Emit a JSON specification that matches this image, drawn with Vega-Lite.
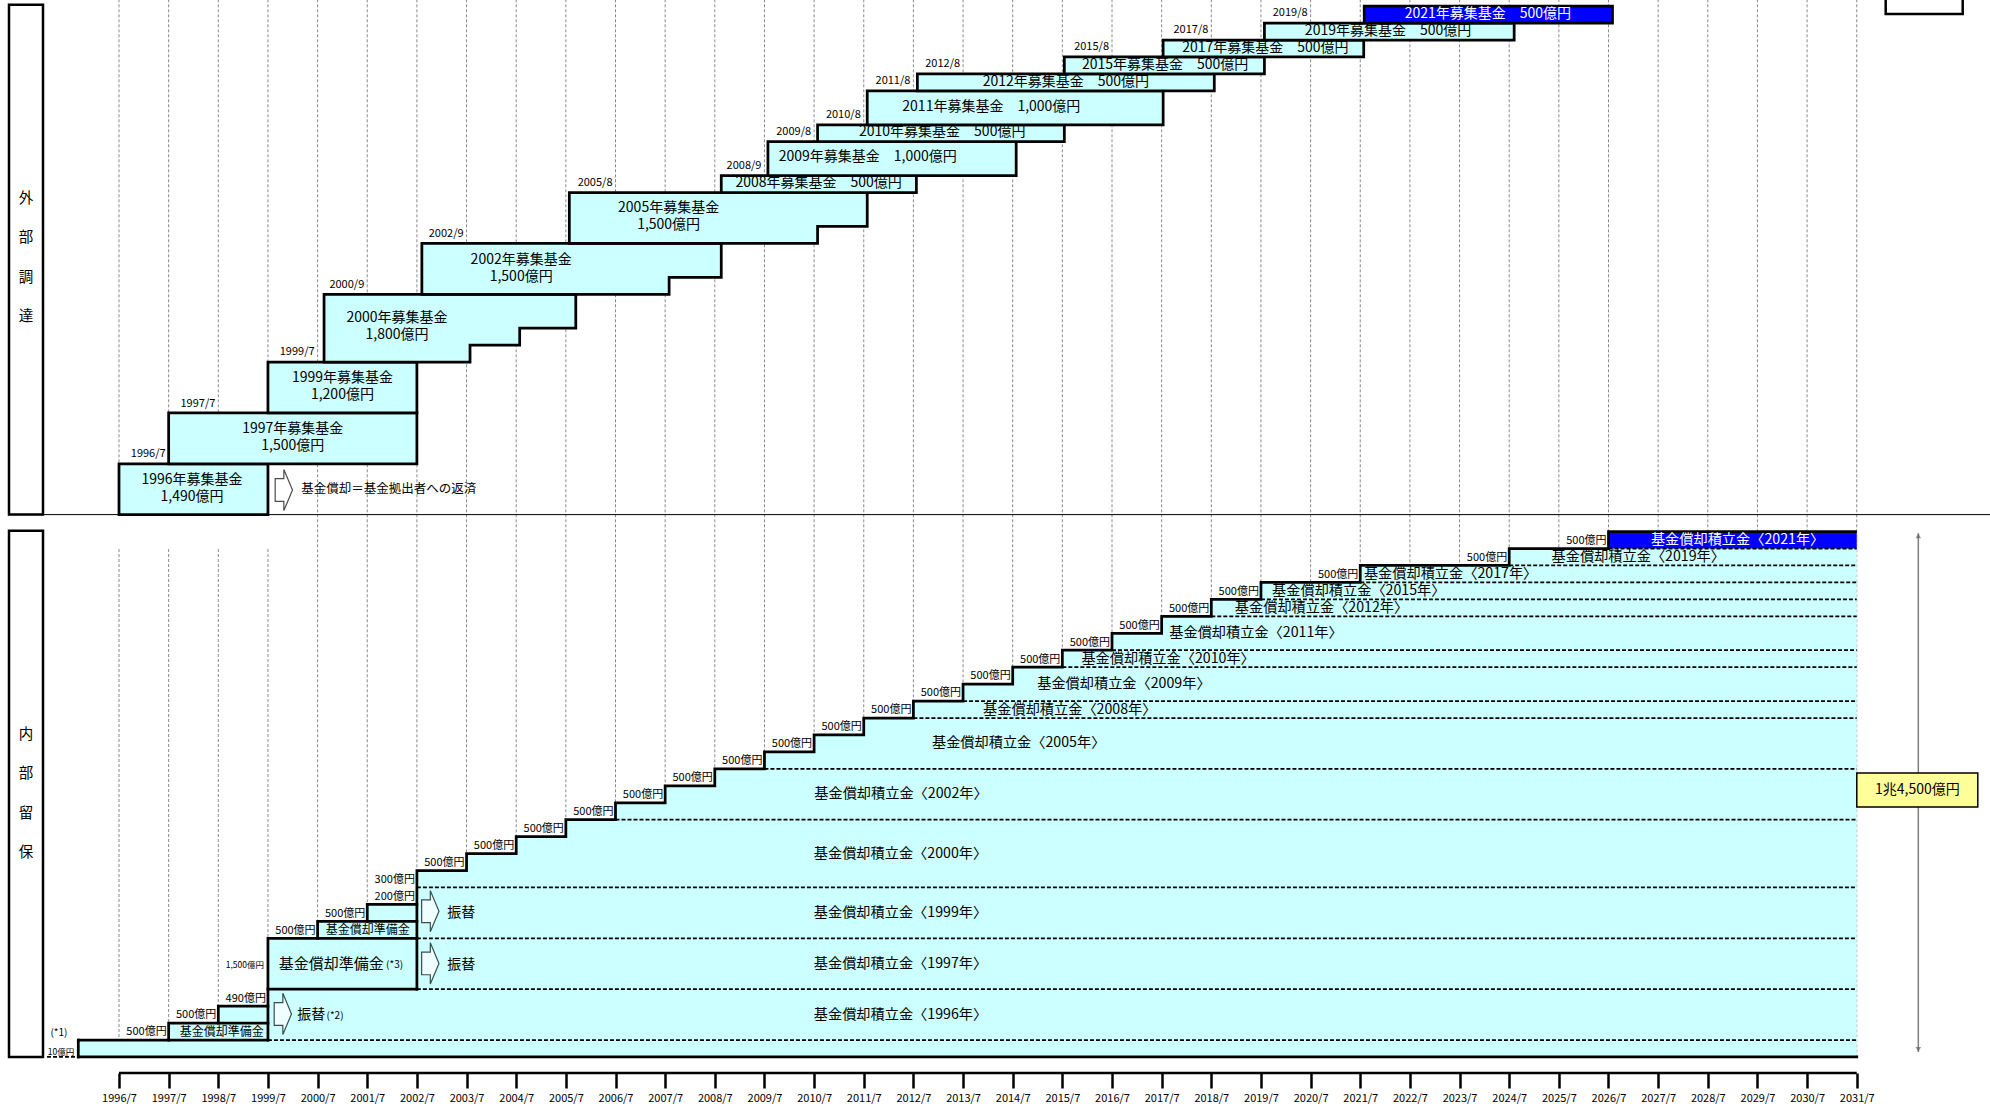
{
"$schema": "https://vega.github.io/schema/vega-lite/v6.json",
"width": 1990, "height": 1073,
"autosize": {"type": "none"},
"padding": {"left": 0, "top": 0, "right": 0, "bottom": 36},
"background": "white",
"config": {"view": {"stroke": null}, "font": "Noto Sans CJK JP", "text": {"font": "Noto Sans CJK JP"}},
"datasets": {
"grid": [
{"t":1996.5,"lv":62.4,"lv2":32},{"t":1996.5,"lv":29.97,"lv2":0},
{"t":1997.5,"lv":62.4,"lv2":32},{"t":1997.5,"lv":29.97,"lv2":0},
{"t":1998.5,"lv":62.4,"lv2":32},{"t":1998.5,"lv":29.97,"lv2":0},
{"t":1999.5,"lv":62.4,"lv2":32},{"t":1999.5,"lv":29.97,"lv2":0},
{"t":2000.5,"lv":62.4,"lv2":0},{"t":2001.5,"lv":62.4,"lv2":0},{"t":2002.5,"lv":62.4,"lv2":0},{"t":2003.5,"lv":62.4,"lv2":0},
{"t":2004.5,"lv":62.4,"lv2":0},{"t":2005.5,"lv":62.4,"lv2":0},{"t":2006.5,"lv":62.4,"lv2":0},{"t":2007.5,"lv":62.4,"lv2":0},
{"t":2008.5,"lv":62.4,"lv2":0},{"t":2009.5,"lv":62.4,"lv2":0},{"t":2010.5,"lv":62.4,"lv2":0},{"t":2011.5,"lv":62.4,"lv2":0},
{"t":2012.5,"lv":62.4,"lv2":0},{"t":2013.5,"lv":62.4,"lv2":0},{"t":2014.5,"lv":62.4,"lv2":0},{"t":2015.5,"lv":62.4,"lv2":0},
{"t":2016.5,"lv":62.4,"lv2":0},{"t":2017.5,"lv":62.4,"lv2":0},{"t":2018.5,"lv":62.4,"lv2":0},{"t":2019.5,"lv":62.4,"lv2":0},
{"t":2020.5,"lv":62.4,"lv2":0},{"t":2021.5,"lv":62.4,"lv2":0},{"t":2022.5,"lv":62.4,"lv2":0},{"t":2023.5,"lv":62.4,"lv2":0},
{"t":2024.5,"lv":62.4,"lv2":0},{"t":2025.5,"lv":62.4,"lv2":0},{"t":2026.5,"lv":62.4,"lv2":0},{"t":2027.5,"lv":62.4,"lv2":0},
{"t":2028.5,"lv":62.4,"lv2":0},{"t":2029.5,"lv":62.4,"lv2":0},{"t":2030.5,"lv":62.4,"lv2":0},{"t":2031.5,"lv":62.4,"lv2":0}
],
"thin": [{"t":1994.264,"t2":2034.2,"lv":32}],
"axisLine": [{"t":1996.5,"t2":2031.5,"lv":-0.944}],
"stair": [
{"t":1995.68,"lv":1},{"t":1997.5,"lv":2},{"t":1998.5,"lv":3},{"t":1999.5,"lv":7},{"t":2000.5,"lv":8},{"t":2001.5,"lv":9},
{"t":2002.5,"lv":11},{"t":2003.5,"lv":12},{"t":2004.5,"lv":13},{"t":2005.5,"lv":14},{"t":2006.5,"lv":15},{"t":2007.5,"lv":16},
{"t":2008.5,"lv":17},{"t":2009.5,"lv":18},{"t":2010.5,"lv":19},{"t":2011.5,"lv":20},{"t":2012.5,"lv":21},{"t":2013.5,"lv":22},
{"t":2014.5,"lv":23},{"t":2015.5,"lv":24},{"t":2016.5,"lv":25},{"t":2017.5,"lv":26},{"t":2018.5,"lv":27},{"t":2019.5,"lv":28},
{"t":2021.5,"lv":29},{"t":2024.5,"lv":30},{"t":2026.5,"lv":31},{"t":2031.5,"lv":31}
],
"blueband": [{"t":2026.5,"t2":2031.5,"lv":30,"lv2":31}],
"seps": [
{"t":1995.05,"t2":1995.68,"lv":0},
{"t":1999.5,"t2":2031.5,"lv":1},{"t":2002.5,"t2":2031.5,"lv":4},{"t":2002.5,"t2":2031.5,"lv":7},{"t":2002.5,"t2":2031.5,"lv":10},
{"t":2006.5,"t2":2031.5,"lv":14},{"t":2009.5,"t2":2031.5,"lv":17},{"t":2012.5,"t2":2031.5,"lv":20},{"t":2013.5,"t2":2031.5,"lv":21},
{"t":2015.5,"t2":2031.5,"lv":23},{"t":2016.5,"t2":2031.5,"lv":24},{"t":2018.5,"t2":2031.5,"lv":26},{"t":2019.5,"t2":2031.5,"lv":27},
{"t":2021.5,"t2":2031.5,"lv":28},{"t":2024.5,"t2":2031.5,"lv":29},{"t":2026.5,"t2":2031.5,"lv":30}
],
"segs": [
{"t":1995.68,"t2":1995.68,"lv":0,"lv2":1},
{"t":1995.68,"t2":2031.5,"lv":0,"lv2":0},
{"t":1997.5,"t2":1999.5,"lv":1,"lv2":1},
{"t":1998.5,"t2":1999.5,"lv":2,"lv2":2},
{"t":1999.5,"t2":1999.5,"lv":1,"lv2":3},
{"t":1999.5,"t2":2002.5,"lv":4,"lv2":4},
{"t":2000.5,"t2":2002.5,"lv":7,"lv2":7},
{"t":2001.5,"t2":2002.5,"lv":8,"lv2":8},
{"t":2002.5,"t2":2002.5,"lv":4,"lv2":9}
],
"funds": [
{"fund":"1996","kind":"past","lv":32,"t":1999.5,"t2":1996.5},{"fund":"1996","kind":"past","lv":35,"t":1999.5,"t2":1996.5},
{"fund":"1997","kind":"past","lv":35,"t":2002.5,"t2":1997.5},{"fund":"1997","kind":"past","lv":38,"t":2002.5,"t2":1997.5},
{"fund":"1999","kind":"past","lv":38,"t":2002.5,"t2":1999.5},{"fund":"1999","kind":"past","lv":41,"t":2002.5,"t2":1999.5},
{"fund":"2000","kind":"past","lv":41,"t":2002.6,"t2":2000.63},{"fund":"2000","kind":"past","lv":42,"t":2003.57,"t2":2000.63},
{"fund":"2000","kind":"past","lv":43,"t":2004.57,"t2":2000.63},{"fund":"2000","kind":"past","lv":44,"t":2005.7,"t2":2000.63},
{"fund":"2000","kind":"past","lv":45,"t":2005.7,"t2":2000.63},
{"fund":"2002","kind":"past","lv":45,"t":2006.57,"t2":2002.6},{"fund":"2002","kind":"past","lv":46,"t":2007.58,"t2":2002.6},
{"fund":"2002","kind":"past","lv":47,"t":2008.63,"t2":2002.6},{"fund":"2002","kind":"past","lv":48,"t":2008.63,"t2":2002.6},
{"fund":"2005","kind":"past","lv":48,"t":2009.57,"t2":2005.57},{"fund":"2005","kind":"past","lv":49,"t":2010.57,"t2":2005.57},
{"fund":"2005","kind":"past","lv":50,"t":2011.57,"t2":2005.57},{"fund":"2005","kind":"past","lv":51,"t":2011.57,"t2":2005.57},
{"fund":"2008","kind":"past","lv":51,"t":2012.56,"t2":2008.63},{"fund":"2008","kind":"past","lv":52,"t":2012.56,"t2":2008.63},
{"fund":"2009","kind":"past","lv":52,"t":2013.56,"t2":2009.57},{"fund":"2009","kind":"past","lv":53,"t":2014.57,"t2":2009.57},
{"fund":"2009","kind":"past","lv":54,"t":2014.57,"t2":2009.57},
{"fund":"2010","kind":"past","lv":54,"t":2015.54,"t2":2010.57},{"fund":"2010","kind":"past","lv":55,"t":2015.54,"t2":2010.57},
{"fund":"2011","kind":"past","lv":55,"t":2016.55,"t2":2011.57},{"fund":"2011","kind":"past","lv":56,"t":2017.53,"t2":2011.57},
{"fund":"2011","kind":"past","lv":57,"t":2017.53,"t2":2011.57},
{"fund":"2012","kind":"past","lv":57,"t":2018.56,"t2":2012.58},{"fund":"2012","kind":"past","lv":58,"t":2018.56,"t2":2012.58},
{"fund":"2015","kind":"past","lv":58,"t":2019.57,"t2":2015.54},{"fund":"2015","kind":"past","lv":59,"t":2019.57,"t2":2015.54},
{"fund":"2017","kind":"past","lv":59,"t":2021.57,"t2":2017.53},{"fund":"2017","kind":"past","lv":60,"t":2021.57,"t2":2017.53},
{"fund":"2019","kind":"past","lv":60,"t":2024.6,"t2":2019.57},{"fund":"2019","kind":"past","lv":61,"t":2024.6,"t2":2019.57},
{"fund":"2021","kind":"latest","lv":61,"t":2026.58,"t2":2021.58},{"fund":"2021","kind":"latest","lv":62,"t":2026.58,"t2":2021.58}
],
"fundLabels": [
{"t":1997.97,"lv":34.04,"text":"1996年募集基金\n1,490億円","kind":"past"},
{"t":2000.0,"lv":37.04,"text":"1997年募集基金\n1,500億円","kind":"past"},
{"t":2001.0,"lv":40.04,"text":"1999年募集基金\n1,200億円","kind":"past"},
{"t":2002.1,"lv":43.58,"text":"2000年募集基金\n1,800億円","kind":"past"},
{"t":2004.6,"lv":47.03,"text":"2002年募集基金\n1,500億円","kind":"past"},
{"t":2007.57,"lv":50.06,"text":"2005年募集基金\n1,500億円","kind":"past"},
{"t":2010.59,"lv":51.55,"text":"2008年募集基金　500億円","kind":"past"},
{"t":2011.58,"lv":53.1,"text":"2009年募集基金　1,000億円","kind":"past"},
{"t":2013.08,"lv":54.55,"text":"2010年募集基金　500億円","kind":"past"},
{"t":2014.07,"lv":56.07,"text":"2011年募集基金　1,000億円","kind":"past"},
{"t":2015.57,"lv":57.55,"text":"2012年募集基金　500億円","kind":"past"},
{"t":2017.57,"lv":58.55,"text":"2015年募集基金　500億円","kind":"past"},
{"t":2019.59,"lv":59.55,"text":"2017年募集基金　500億円","kind":"past"},
{"t":2022.06,"lv":60.55,"text":"2019年募集基金　500億円","kind":"past"},
{"t":2024.07,"lv":61.55,"text":"2021年募集基金　500億円","kind":"latest"}
],
"dateLabels": [
{"t":1997.5,"lv":35.58,"text":"1996/7"},{"t":1998.5,"lv":38.55,"text":"1997/7"},{"t":2000.5,"lv":41.57,"text":"1999/7"},
{"t":2001.5,"lv":45.57,"text":"2000/9"},{"t":2003.5,"lv":48.57,"text":"2002/9"},{"t":2006.5,"lv":51.57,"text":"2005/8"},
{"t":2009.5,"lv":52.57,"text":"2008/9"},{"t":2010.5,"lv":54.57,"text":"2009/8"},{"t":2011.5,"lv":55.57,"text":"2010/8"},
{"t":2012.5,"lv":57.57,"text":"2011/8"},{"t":2013.5,"lv":58.57,"text":"2012/8"},{"t":2016.5,"lv":59.57,"text":"2015/8"},
{"t":2018.5,"lv":60.57,"text":"2017/8"},{"t":2020.5,"lv":61.57,"text":"2019/8"}
],
"amounts": [
{"t":1997.5,"lv":1.45,"text":"500億円"},{"t":1998.5,"lv":2.45,"text":"500億円"},{"t":1999.5,"lv":3.45,"text":"490億円"},
{"t":2000.5,"lv":7.42,"text":"500億円"},{"t":2001.5,"lv":8.42,"text":"500億円"},{"t":2002.5,"lv":9.45,"text":"200億円"},
{"t":2002.5,"lv":10.45,"text":"300億円"},{"t":2003.5,"lv":11.45,"text":"500億円"},{"t":2004.5,"lv":12.45,"text":"500億円"},
{"t":2005.5,"lv":13.45,"text":"500億円"},{"t":2006.5,"lv":14.45,"text":"500億円"},{"t":2007.5,"lv":15.45,"text":"500億円"},
{"t":2008.5,"lv":16.45,"text":"500億円"},{"t":2009.5,"lv":17.45,"text":"500億円"},{"t":2010.5,"lv":18.45,"text":"500億円"},
{"t":2011.5,"lv":19.45,"text":"500億円"},{"t":2012.5,"lv":20.45,"text":"500億円"},{"t":2013.5,"lv":21.45,"text":"500億円"},
{"t":2014.5,"lv":22.45,"text":"500億円"},{"t":2015.5,"lv":23.45,"text":"500億円"},{"t":2016.5,"lv":24.45,"text":"500億円"},
{"t":2017.5,"lv":25.45,"text":"500億円"},{"t":2018.5,"lv":26.45,"text":"500億円"},{"t":2019.5,"lv":27.45,"text":"500億円"},
{"t":2021.5,"lv":28.45,"text":"500億円"},{"t":2024.5,"lv":29.45,"text":"500億円"},{"t":2026.5,"lv":30.45,"text":"500億円"}
],
"smallAmounts": [{"t":1999.5,"lv":5.4,"text":"1,500億円"},{"t":1995.68,"lv":0.3,"text":"10億円"}],
"bandLabels": [
{"t":2012.24,"lv":2.5,"text":"基金償却積立金〈1996年〉","kind":"past"},
{"t":2012.24,"lv":5.5,"text":"基金償却積立金〈1997年〉","kind":"past"},
{"t":2012.24,"lv":8.5,"text":"基金償却積立金〈1999年〉","kind":"past"},
{"t":2012.24,"lv":12,"text":"基金償却積立金〈2000年〉","kind":"past"},
{"t":2012.25,"lv":15.5,"text":"基金償却積立金〈2002年〉","kind":"past"},
{"t":2014.62,"lv":18.5,"text":"基金償却積立金〈2005年〉","kind":"past"},
{"t":2015.65,"lv":20.5,"text":"基金償却積立金〈2008年〉","kind":"past"},
{"t":2016.74,"lv":22,"text":"基金償却積立金〈2009年〉","kind":"past"},
{"t":2017.63,"lv":23.5,"text":"基金償却積立金〈2010年〉","kind":"past"},
{"t":2019.4,"lv":25,"text":"基金償却積立金〈2011年〉","kind":"past"},
{"t":2020.72,"lv":26.5,"text":"基金償却積立金〈2012年〉","kind":"past"},
{"t":2021.47,"lv":27.5,"text":"基金償却積立金〈2015年〉","kind":"past"},
{"t":2023.32,"lv":28.5,"text":"基金償却積立金〈2017年〉","kind":"past"},
{"t":2027.1,"lv":29.5,"text":"基金償却積立金〈2019年〉","kind":"past"},
{"t":2029.1,"lv":30.5,"text":"基金償却積立金〈2021年〉","kind":"latest"}
],
"misc14": [
{"t":2000.09,"lv":2.45,"text":"振替"},{"t":2003.11,"lv":5.45,"text":"振替"},{"t":2003.11,"lv":8.5,"text":"振替"}
],
"misc15": [
{"t":1999.72,"lv":5.5,"text":"基金償却準備金"}
],
"misc10": [
{"t":2000.68,"lv":2.4,"text":"(*2)"},{"t":2001.88,"lv":5.45,"text":"(*3)"},{"t":1995.12,"lv":1.42,"text":"(*1)"}
],
"misc12": [
{"t":1998.57,"lv":1.5,"text":"基金償却準備金"},{"t":2001.51,"lv":7.5,"text":"基金償却準備金"}
],
"note": [{"t":2000.17,"lv":33.5,"text":"基金償却＝基金拠出者への返済"}],
"panels": [
{"t":1994.2845,"t2":1994.9693,"lv":32,"lv2":62.08},
{"t":1994.2845,"t2":1994.9693,"lv":0,"lv2":31.05},
{"t":2032.083,"t2":2033.634,"lv":61.53,"lv2":63.5}
],
"panelText": [
{"t":1994.627,"lv":50.62,"text":"外\n部\n調\n達"},
{"t":1994.627,"lv":19.0,"text":"内\n部\n留\n保"}
],
"total": [{"t":2031.501,"t2":2033.938,"lv":14.75,"lv2":16.76}],
"totalText": [{"t":2032.72,"lv":15.75,"text":"1兆4,500億円"}],
"totalArrow": [{"t":2032.74,"lv":0.3,"lv2":30.9}],
"totalHeads": [{"t":2032.74,"lv":30.75,"dir":"up"},{"t":2032.74,"lv":0.45,"dir":"down"}],
"arrows": [{"t":1999.82,"lv":33.45},{"t":1999.8,"lv":2.54},{"t":2002.77,"lv":5.52},{"t":2002.77,"lv":8.6}]
},
"encoding": {
"x": {"field": "t", "type": "quantitative",
 "scale": {"domain": [1994.1032, 2034.1838], "nice": false, "zero": false},
 "axis": {"values": [1996.5,1997.5,1998.5,1999.5,2000.5,2001.5,2002.5,2003.5,2004.5,2005.5,2006.5,2007.5,2008.5,2009.5,2010.5,2011.5,2012.5,2013.5,2014.5,2015.5,2016.5,2017.5,2018.5,2019.5,2020.5,2021.5,2022.5,2023.5,2024.5,2025.5,2026.5,2027.5,2028.5,2029.5,2030.5,2031.5],
  "labelExpr": "floor(datum.value) + '/7'", "tickSize": 15, "tickWidth": 2.5, "tickColor": "black",
  "domain": false, "grid": false, "labelFont": "Noto Sans CJK JP", "labelFontSize": 11, "labelColor": "black",
  "labelPadding": 4, "labelFlush": false, "labelOverlap": false, "labelBound": false, "title": null}},
"y": {"field": "lv", "type": "quantitative",
 "scale": {"domain": [-0.944, 62.36], "nice": false, "zero": false}, "axis": null}
},
"layer": [
{"data": {"name": "grid"}, "mark": {"type": "rule", "stroke": "#8a8a8a", "strokeWidth": 1, "strokeDash": [3, 2]}, "encoding": {"y2": {"field": "lv2"}}},
{"data": {"name": "thin"}, "mark": {"type": "rule", "stroke": "black", "strokeWidth": 1}, "encoding": {"x2": {"field": "t2"}}},
{"data": {"name": "stair"}, "mark": {"type": "area", "orient": "vertical", "interpolate": "step-after", "fill": "#ccffff", "stroke": null}, "encoding": {"y2": {"datum": 0}}},
{"data": {"name": "blueband"}, "mark": {"type": "rect", "fill": "#0000ff"}, "encoding": {"x2": {"field": "t2"}, "y2": {"field": "lv2"}}},
{"data": {"name": "seps"}, "mark": {"type": "rule", "stroke": "black", "strokeWidth": 1.75, "strokeDash": [4, 2]}, "encoding": {"x2": {"field": "t2"}}},
{"data": {"name": "segs"}, "mark": {"type": "rule", "stroke": "black", "strokeWidth": 2.75, "strokeCap": "square"}, "encoding": {"x2": {"field": "t2"}, "y2": {"field": "lv2"}}},
{"data": {"name": "stair"}, "mark": {"type": "line", "interpolate": "step-after", "stroke": "black", "strokeWidth": 2.75}},
{"data": {"name": "funds"}, "mark": {"type": "area", "orient": "horizontal", "interpolate": "step-before", "stroke": "black", "strokeWidth": 2.75},
 "encoding": {"x2": {"field": "t2"}, "detail": {"field": "fund"},
  "fill": {"condition": {"test": "datum.kind === 'latest'", "value": "#0000ff"}, "value": "#ccffff"}}},
{"data": {"name": "panels"}, "mark": {"type": "rect", "fill": "white", "stroke": "black", "strokeWidth": 2.5}, "encoding": {"x2": {"field": "t2"}, "y2": {"field": "lv2"}}},
{"data": {"name": "totalArrow"}, "mark": {"type": "rule", "stroke": "#7f7f7f", "strokeWidth": 1.5}, "encoding": {"y2": {"field": "lv2"}}},
{"data": {"name": "totalHeads"}, "mark": {"type": "point", "filled": true, "fill": "#5f5f5f", "stroke": null, "size": 30},
 "encoding": {"shape": {"condition": {"test": "datum.dir === 'up'", "value": "triangle-up"}, "value": "triangle-down"}}},
{"data": {"name": "total"}, "mark": {"type": "rect", "fill": "#ffff99", "stroke": "black", "strokeWidth": 1.5}, "encoding": {"x2": {"field": "t2"}, "y2": {"field": "lv2"}}},
{"data": {"name": "arrows"}, "mark": {"type": "point", "shape": "M-0.42,-0.55L0,-0.55L0,-1L0.42,0L0,1L0,0.55L-0.42,0.55Z", "size": 1700, "filled": true, "fill": "white", "stroke": "black", "strokeWidth": 1.2}},
{"data": {"name": "fundLabels"}, "mark": {"type": "text", "fontSize": 14, "lineBreak": "\n", "lineHeight": 16.7, "align": "center", "baseline": "middle"},
 "encoding": {"text": {"field": "text"}, "color": {"condition": {"test": "datum.kind === 'latest'", "value": "white"}, "value": "black"}}},
{"data": {"name": "dateLabels"}, "mark": {"type": "text", "fontSize": 11, "align": "right", "baseline": "middle", "dx": -3, "color": "black"}, "encoding": {"text": {"field": "text"}}},
{"data": {"name": "amounts"}, "mark": {"type": "text", "fontSize": 11, "align": "right", "baseline": "middle", "dx": -2, "color": "black"}, "encoding": {"text": {"field": "text"}}},
{"data": {"name": "smallAmounts"}, "mark": {"type": "text", "fontSize": 8.5, "align": "right", "baseline": "middle", "dx": -4, "color": "black"}, "encoding": {"text": {"field": "text"}}},
{"data": {"name": "bandLabels"}, "mark": {"type": "text", "fontSize": 14.2, "align": "center", "baseline": "middle"},
 "encoding": {"text": {"field": "text"}, "color": {"condition": {"test": "datum.kind === 'latest'", "value": "white"}, "value": "black"}}},
{"data": {"name": "misc14"}, "mark": {"type": "text", "fontSize": 14, "align": "left", "baseline": "middle", "color": "black"}, "encoding": {"text": {"field": "text"}}},
{"data": {"name": "misc15"}, "mark": {"type": "text", "fontSize": 15, "align": "left", "baseline": "middle", "color": "black"}, "encoding": {"text": {"field": "text"}}},
{"data": {"name": "misc10"}, "mark": {"type": "text", "fontSize": 10, "align": "left", "baseline": "middle", "color": "black"}, "encoding": {"text": {"field": "text"}}},
{"data": {"name": "misc12"}, "mark": {"type": "text", "fontSize": 12, "align": "center", "baseline": "middle", "color": "black"}, "encoding": {"text": {"field": "text"}}},
{"data": {"name": "note"}, "mark": {"type": "text", "fontSize": 12.5, "align": "left", "baseline": "middle", "color": "black"}, "encoding": {"text": {"field": "text"}}},
{"data": {"name": "panelText"}, "mark": {"type": "text", "fontSize": 14.5, "lineBreak": "\n", "lineHeight": 39.3, "align": "center", "baseline": "middle", "color": "black"}, "encoding": {"text": {"field": "text"}}},
{"data": {"name": "totalText"}, "mark": {"type": "text", "fontSize": 14, "align": "center", "baseline": "middle", "color": "black"}, "encoding": {"text": {"field": "text"}}},
{"data": {"name": "axisLine"}, "mark": {"type": "rule", "stroke": "black", "strokeWidth": 2.5}, "encoding": {"x2": {"field": "t2"}}}
]
}
